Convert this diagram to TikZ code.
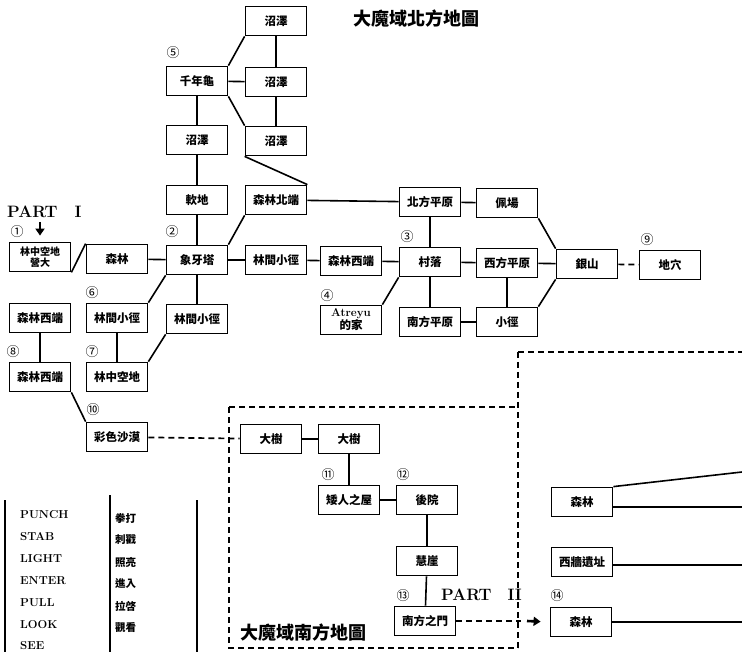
\documentclass[tikz,border=0pt]{standalone}
\usepackage{fontspec}
\newfontfamily\cjk{Noto Sans CJK TC}
\usetikzlibrary{arrows.meta}

\begin{document}
\begin{tikzpicture}[x=1pt,y=-1pt,
  room/.style={rectangle,draw,line width=1.8pt,minimum width=61pt,minimum height=29pt,
               inner sep=0pt,font=\cjk\bfseries\fontsize{11.5}{13}\selectfont},
  conn/.style={line width=1.6pt},
  link/.style={line width=1.7pt,dash pattern=on 6pt off 4pt},
  frame/.style={line width=1.2pt,dash pattern=on 6pt off 4pt},
  num/.style={font=\cjk\fontsize{13}{14}\selectfont,inner sep=0pt},
  part/.style={font=\bfseries\fontsize{16.5}{19}\selectfont,inner sep=0pt,anchor=west},
  cmd/.style={font=\bfseries\fontsize{11.5}{12}\selectfont,anchor=west,inner sep=0pt},
  zh/.style={font=\cjk\bfseries\fontsize{10.5}{12}\selectfont,anchor=west,inner sep=0pt},
  maptitle/.style={font=\cjk\bfseries\fontsize{18}{20}\selectfont},
  >={Triangle[length=7pt,width=9pt]}
]
\useasboundingbox (0,0) rectangle (742,652);
\clip (0,0) rectangle (742,652);
\def\xA{40}\def\xB{117}\def\xC{197}\def\xD{276}\def\xE{351}\def\xF{430}\def\xG{507}\def\xH{587}\def\xI{670}
% north map
\node[room] (swampA)     at (\xD,21)  {沼澤};
\node[room] (tortoise)   at (\xC,81)  {千年龜};
\node[room] (swampB)     at (\xD,82)  {沼澤};
\node[room] (swampD)     at (\xC,140) {沼澤};
\node[room] (swampC)     at (\xD,141) {沼澤};
\node[room] (softland)   at (\xC,200) {軟地};
\node[room] (northend)   at (\xD,200) {森林北端};
\node[room] (northplain) at (\xF,202) {北方平原};
\node[room] (field)      at (\xG,203) {佩場};
\node[room,align=center,font=\cjk\bfseries\fontsize{10}{11}\selectfont] (camp) at (\xA,257) {林中空地\\營大};
\node[room] (forestA)    at (\xB,259) {森林};
\node[room] (ivory)      at (\xC,260) {象牙塔};
\node[room] (pathC)      at (\xD,260) {林間小徑};
\node[room] (westendC)   at (\xE,261) {森林西端};
\node[room] (village)    at (\xF,262) {村落};
\node[room] (westplain)  at (\xG,263) {西方平原};
\node[room] (silvermt)   at (\xH,264) {銀山};
\node[room] (cave)       at (\xI,265) {地穴};
\node[room] (westendA)   at (\xA,318) {森林西端};
\node[room] (pathA)      at (\xB,318) {林間小徑};
\node[room] (pathB)      at (\xC,319) {林間小徑};
\node[room,align=center] (atreyu) at (\xE,320) {{\rmfamily\bfseries Atreyu}\\的家};
\node[room] (southplain) at (\xF,322) {南方平原};
\node[room] (trail)      at (\xG,322) {小徑};
\node[room] (westendB)   at (\xA,377) {森林西端};
\node[room] (clearing)   at (\xB,377) {林中空地};
\node[room] (desert)     at (\xB,437) {彩色沙漠};
% south map
\node[room] (treeA)      at (271,439) {大樹};
\node[room] (treeB)      at (349,439) {大樹};
\node[room] (dwarf)      at (349,500) {矮人之屋};
\node[room] (yard)       at (427,500) {後院};
\node[room] (cliff)      at (427,561) {慧崖};
\node[room] (southgate)  at (425,621) {南方之門};
% part II
\node[room] (forestB)    at (582,502) {森林};
\node[room] (ruins)      at (582,562) {西牆遺址};
\node[room] (forestC)    at (581,622) {森林};
\coordinate (edgeA) at (742,472);
\coordinate (edgeB) at (742,507);
\coordinate (edgeC) at (742,565);
\coordinate (edgeD) at (742,622);
\coordinate (startA) at (\xA,222);
\coordinate (gapA) at (521,621);
\coordinate (arrA) at (527,621);
% connections
\draw[conn] (tortoise.north east) -- (swampA.south west);
\draw[conn] (tortoise) -- (swampB);
\draw[conn] (tortoise.south east) -- (swampC.north west);
\draw[conn] (swampA) -- (swampB);
\draw[conn] (swampB) -- (swampC);
\draw[conn] (tortoise) -- (swampD);
\draw[conn] (swampD) -- (softland);
\draw[conn] (softland) -- (ivory);
\draw[conn] (swampC.south west) -- (northend.north east);
\draw[conn] (northend) -- (northplain);
\draw[conn] (northplain) -- (field);
\draw[conn] (northplain) -- (village);
\draw[conn] (camp.south east) -- (forestA.north west);
\draw[conn] (forestA) -- (ivory);
\draw[conn] (ivory.north east) -- (northend.south west);
\draw[conn] (ivory) -- (pathC);
\draw[conn] (pathC) -- (westendC);
\draw[conn] (westendC) -- (village);
\draw[conn] (village) -- (westplain);
\draw[conn] (westplain) -- (silvermt);
\draw[conn] (village.south west) -- (atreyu.north east);
\draw[conn] (village) -- (southplain);
\draw[conn] (southplain) -- (trail);
\draw[conn] (westplain) -- (trail);
\draw[conn] (field.south east) -- (silvermt.north west);
\draw[conn] (trail.north east) -- (silvermt.south west);
\draw[link] (silvermt) -- (cave);
\draw[conn] (ivory.south west) -- (pathA.north east);
\draw[conn] (ivory) -- (pathB);
\draw[conn] (westendA) -- (westendB);
\draw[conn] (pathA) -- (clearing);
\draw[conn] (pathB.south west) -- (clearing.north east);
\draw[conn] (westendB.south east) -- (desert.north west);
\draw[link] (desert) -- (treeA);
\draw[conn] (treeA) -- (treeB);
\draw[conn] (treeB) -- (dwarf);
\draw[conn] (dwarf) -- (yard);
\draw[conn] (yard) -- (cliff);
\draw[conn] (cliff) -- (southgate);
\draw[link] (southgate) -- (gapA);
\draw[->,line width=2.6pt,shorten >=9pt] (arrA) -- (forestC.west);
\draw[->,line width=2.6pt,shorten >=6pt] (startA) -- (camp.north);
\draw[conn] (forestB.north east) -- (edgeA);
\draw[conn] (edgeB -| forestB.east) -- (edgeB);
\draw[conn] (edgeC -| ruins.east) -- (edgeC);
\draw[conn] (forestC) -- (edgeD);
% dashed borders
\draw[frame] (229,407) -- (518,407);
\draw[frame] (229,407) -- (229,648) -- (518,648);
\draw[frame] (518,352) -- (518,652);
\draw[frame] (518,352) -- (742,352);
% numbers
\node[num] (n1)  at (17,232)  {①};
\node[num] (n2)  at (172,232) {②};
\node[num] (n3)  at (407,237) {③};
\node[num] (n4)  at (327,296) {④};
\node[num] (n5)  at (173,53)  {⑤};
\node[num] (n6)  at (92,293)  {⑥};
\node[num] (n7)  at (92,352)  {⑦};
\node[num] (n8)  at (13,352)  {⑧};
\node[num] (n9)  at (647,240) {⑨};
\node[num] (n10) at (93,410)  {⑩};
\node[num] (n11) at (328,475) {⑪};
\node[num] (n12) at (403,475) {⑫};
\node[num] (n13) at (403,596) {⑬};
\node[num] (n14) at (557,596) {⑭};
% titles
\node[maptitle] (titleN) at (416,19)  {大魔域北方地圖};
\node[maptitle] (titleS) at (303,633) {大魔域南方地圖};
\node[part] (partA) at (7,212)   {PART\hspace{17pt}I};
\node[part] (partB) at (441,595) {PART\hspace{16pt}II};
% command table
\draw[line width=1.4pt] (5,500) -- (5,652);
\draw[line width=1.4pt] (110,495) -- (110,652);
\draw[line width=1.4pt] (197,500) -- (197,652);
\foreach \en/\cn [count=\i from 0] in {PUNCH/拳打,STAB/刺戳,LIGHT/照亮,ENTER/進入,PULL/拉啓,LOOK/觀看}{
  \node[cmd] (cmd\i) at (20,515+22*\i) {\en};
  \node[zh]  (cn\i)  at (115,518+22*\i) {\cn};
}
\node[cmd] (cmd6) at (20,646) {SEE};
\end{tikzpicture}
\end{document}
